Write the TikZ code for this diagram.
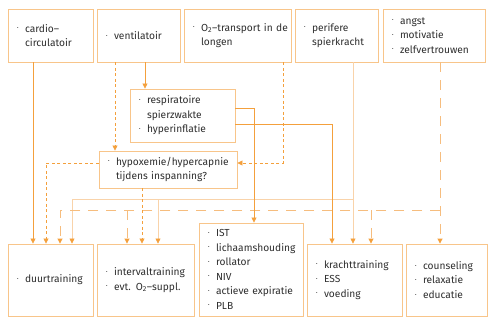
\documentclass[tikz,border=0pt]{standalone}
\usepackage{fontspec}
\setmainfont{Fira Sans}
\usetikzlibrary{arrows.meta}
\definecolor{boxc}{HTML}{F8C58A}
\definecolor{arrc}{HTML}{F4A03C}
\definecolor{thinc}{HTML}{F9D3AA}
\definecolor{ldc}{HTML}{F6BD7E}
\definecolor{txt}{HTML}{2E2E2E}
\newcommand{\bi}[1]{\makebox[8pt][l]{\raisebox{0.45ex}{\fontsize{4.5}{5}\selectfont •}}#1}
\newcommand{\ci}[1]{\hspace*{8pt}#1}
\begin{document}
\begin{tikzpicture}[x=1pt,y=-1pt,
 box/.style={draw=boxc, line width=0.9pt, inner xsep=9pt, inner ysep=0pt, align=left, text=txt, font=\fontsize{10.2}{14.5}\selectfont},
 tip/.style={-{Triangle[width=5pt,length=5pt,color=arrc]}},
 arr/.style={draw=arrc, line width=0.8pt, tip},
 sdash/.style={arr, dash pattern=on 3pt off 2.5pt},
 ldash/.style={draw=ldc, line width=0.9pt, tip, dash pattern=on 10pt off 8pt},
 thinl/.style={draw=thinc, line width=0.7pt, tip}]
\fill[white] (0,0) rectangle (490,322);
\useasboundingbox (0,0) rectangle (490,322);
% top row
\node[box, text width=67, minimum height=53] (card) at (50.5,35.5) {\bi{cardio–}\\\ci{circulatoir}};
\node[box, text width=65, minimum height=53] (vent) at (138.5,35.5) {\bi{ventilatoir}};
\node[box, text width=89, minimum height=53] (otwo) at (237.5,35.5) {\mbox{\bi{O\textsubscript{2}–transport in de}}\\\ci{longen}};
\node[box, text width=65, minimum height=53] (perif) at (336.5,35.5) {\bi{perifere}\\\ci{spierkracht}};
\node[box, text width=84, minimum height=53] (angst) at (434,35.5) {\bi{angst}\\\bi{motivatie}\\\bi{zelfvertrouwen}};
% middle
\node[box, text width=87, minimum height=53] (resp) at (182.5,115.5) {\bi{respiratoire}\\\ci{spierzwakte}\\\bi{hyperinflatie}};
\node[box, text width=120, minimum height=37] (hyp) at (168,169.5) {\bi{hypoxemie/hypercapnie}\\\ci{tijdens inspanning?}};
% bottom row
\node[box, text width=67, minimum height=72] (duur) at (50.5,280) {\bi{duurtraining}};
\node[box, text width=79, minimum height=72] (intv) at (145.5,280) {\bi{intervaltraining}\\\bi{evt. O\textsubscript{2}–suppl.}};
\node[box, text width=86, minimum height=93] (ist) at (251,269.5) {\bi{IST}\\\bi{lichaamshouding}\\\bi{rollator}\\\bi{NIV}\\\bi{actieve expiratie}\\\bi{PLB}};
\node[box, text width=77, minimum height=72] (kracht) at (354.5,280) {\bi{krachttraining}\\\bi{ESS}\\\bi{voeding}};
\node[box, text width=63, minimum height=72] (couns) at (446.5,280) {\bi{counseling}\\\bi{relaxatie}\\\bi{educatie}};
% helper coordinates
\coordinate (xa) at (33,0); \coordinate (xb) at (46,0); \coordinate (xc) at (60,0);
\coordinate (xd) at (72,0); \coordinate (xe) at (115,0); \coordinate (xf) at (127,0);
\coordinate (xg) at (142,0); \coordinate (xh) at (145,0); \coordinate (xi) at (158,0);
\coordinate (xj) at (254,0); \coordinate (xk) at (283,0); \coordinate (xl) at (332,0);
\coordinate (xm) at (353,0); \coordinate (xn) at (371,0); \coordinate (xo) at (440,0);
\coordinate (ya) at (0,108); \coordinate (yb) at (0,124); \coordinate (yc) at (0,163);
\coordinate (yd) at (0,199); \coordinate (ye) at (0,210);
% thin lines (perifere spierkracht)
\draw[thinl] (perif.south -| xm) -- (kracht.north -| xm);
\draw[thinl] (xm |- yd) -- (xd |- yd) -- (duur.north -| xd);
\draw[thinl] (xi |- yd) -- (intv.north -| xi);
% long dashes (angst)
\draw[ldash] (angst.south -| xo) -- (couns.north -| xo);
\draw[ldash] (xo |- ye) -- (xc |- ye) -- (duur.north -| xc);
\draw[ldash] (xf |- ye) -- (intv.north -| xf);
\draw[ldash] (xn |- ye) -- (kracht.north -| xn);
% solid
\draw[arr] (card.south -| xa) -- (duur.north -| xa);
\draw[arr] (vent.south -| xh) -- (resp.north -| xh);
\draw[arr] (resp.east |- ya) -- (xj |- ya) -- (ist.north -| xj);
\draw[arr] (resp.east |- yb) -- (xl |- yb) -- (kracht.north -| xl);
% short dashes
\draw[sdash] (vent.south -| xe) -- (hyp.north -| xe);
\draw[sdash] (hyp.west |- yc) -- (xb |- yc) -- (duur.north -| xb);
\draw[sdash] (hyp.south -| xg) -- (intv.north -| xg);
\draw[sdash] (otwo.south -| xk) -- (xk |- yc) -- (hyp.east |- yc);
\end{tikzpicture}
\end{document}
